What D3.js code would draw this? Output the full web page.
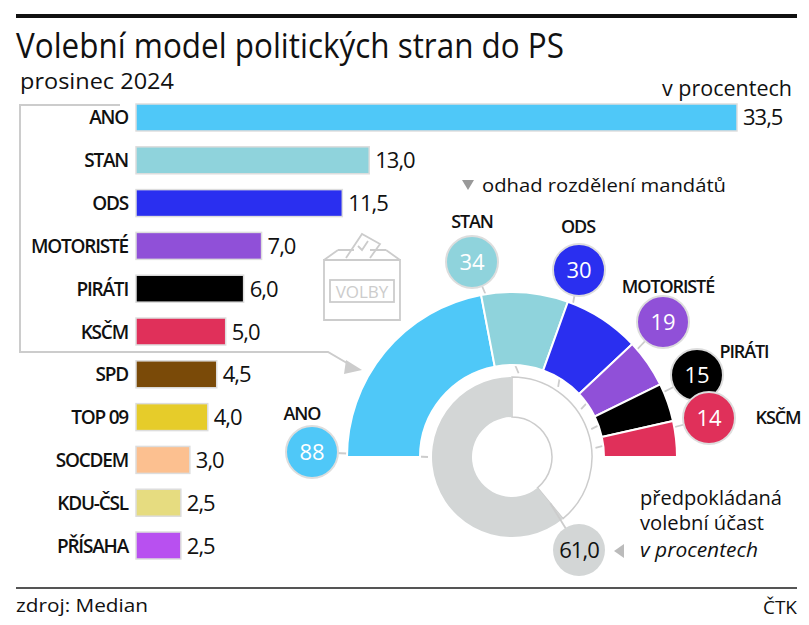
<!DOCTYPE html>
<html><head><meta charset="utf-8">
<script src="https://cdn.jsdelivr.net/npm/d3@7"></script>
<style>body{margin:0;background:#fff}svg{font-family:"Open Sans",sans-serif}</style>
</head><body><div id="scene"></div>
<script>
var parties = ["ANO","STAN","ODS","MOTORISTÉ","PIRÁTI","KSČM","SPD","TOP 09","SOCDEM","KDU-ČSL","PŘÍSAHA"];
var votes = [33.5,13.0,11.5,7.0,6.0,5.0,4.5,4.0,3.0,2.5,2.5];
var colors = ["#4fc8f8","#8fd3dc","#2a2ff0","#9050d8","#000000","#e0305a","#7a4a08","#e6cc2a","#fcc090","#e6dc80","#b850f0"];
var seatParties = ["ANO","STAN","ODS","MOTORISTÉ","PIRÁTI","KSČM"];
var seats = [88,34,30,19,15,14];
var turnout = 61.0;

var ctx = {w:809, h:625};
var fmt = function(v){ return d3.format(".1f")(v).replace(".", ","); };

var svg = d3.select("#scene").append("svg").attr("width", ctx.w).attr("height", ctx.h);

// header
svg.append("rect").attr("x",16).attr("y",14).attr("width",781).attr("height",4).attr("fill","#111");
svg.append("text").attr("x",16).attr("y",58).attr("font-size",34).attr("textLength",548).attr("lengthAdjust","spacingAndGlyphs").attr("fill","#111").text("Volební model politických stran do PS");
svg.append("text").attr("x",20).attr("y",89).attr("font-size",21).attr("textLength",154).attr("lengthAdjust","spacingAndGlyphs").attr("fill","#111").text("prosinec 2024");
svg.append("text").attr("x",792).attr("y",96).attr("font-size",21).attr("textLength",130).attr("lengthAdjust","spacingAndGlyphs").attr("text-anchor","end").attr("fill","#111").text("v procentech");

// bracket
svg.append("path").attr("d","M120,105 H20 V352 H328 L352,366").attr("fill","none").attr("stroke","#ccc").attr("stroke-width",2);
svg.append("path").attr("d","M346,360 L362,370 L344,374 Z").attr("fill","#ccc");

// bars
var x = d3.scaleLinear().domain([0,33.5]).range([136,737]);
var y = d3.scaleBand().domain(parties).range([104,559]).paddingInner(0.37);
var g = svg.append("g");
parties.forEach(function(p,i){
  g.append("rect").attr("x",x(0)).attr("y",y(p)).attr("width",x(votes[i])-x(0)).attr("height",y.bandwidth())
    .attr("fill",colors[i]).attr("stroke","#ddd").attr("stroke-width",1.5);
  g.append("text").attr("x",128).attr("y",y(p)+y.bandwidth()/2+7).attr("text-anchor","end").attr("font-size",19).attr("font-weight",600).attr("letter-spacing",-1.2).attr("fill","#111").text(p);
  g.append("text").attr("x",x(votes[i])+6).attr("y",y(p)+y.bandwidth()/2+8).attr("font-size",22).attr("letter-spacing",-1).attr("fill","#111").text(fmt(votes[i]));
});

// ballot box icon
var ic = svg.append("g").attr("fill","none").attr("stroke","#ccc").attr("stroke-width",1.8);
ic.append("path").attr("d","M324,260 L400,260 L400,320 L324,320 Z");
ic.append("path").attr("d","M324,260 L338,250 M400,260 L386,250 M338,250 L354,250 M370,250 L386,250");
ic.append("path").attr("d","M346,258 L362,234 L380,244 L370,258");
ic.append("path").attr("d","M358,246 L362,250 L368,241");
ic.append("rect").attr("x",330).attr("y",280).attr("width",64).attr("height",22);
svg.append("text").attr("x",362).attr("y",298).attr("text-anchor","middle").attr("font-size",17).attr("fill","#ccc").text("VOLBY");

// legend
svg.append("path").attr("d","M462,180 L474,180 L468,190 Z").attr("fill","#999");
svg.append("text").attr("x",482).attr("y",192).attr("font-size",19).attr("textLength",244).attr("lengthAdjust","spacingAndGlyphs").attr("fill","#111").text("odhad rozdělení mandátů");

// seat hemicycle
var cx = 512, cy = 457;
var total = d3.sum(seats);
var a = d3.scaleLinear().domain([0,total]).range([-Math.PI/2, Math.PI/2]);
var cum = d3.cumsum(seats);
var arc = d3.arc().innerRadius(92).outerRadius(165);
var hg = svg.append("g").attr("transform","translate("+cx+","+cy+")");

var bubbles = [[312,452],[472,262],[579,270],[663,322],[697,375],[709,418]];
var labels = [[302,420],[472,228],[578,233],[668,293],[744,358],[778,424]];

// leader lines (under the arcs)
seats.forEach(function(s,i){
  var am = i==0 ? -Math.PI/2 : a(cum[i]-s/2);
  var r0 = 84;
  svg.insert("line","g").attr("x1",cx+r0*Math.sin(am)).attr("y1",cy-r0*Math.cos(am)).attr("x2",bubbles[i][0]).attr("y2",bubbles[i][1])
    .attr("stroke","#ccc").attr("stroke-width",1.8);
});
seats.forEach(function(s,i){
  var a0 = a(cum[i]-s), a1 = a(cum[i]);
  hg.append("path").attr("d",arc({startAngle:a0,endAngle:a1})).attr("fill",colors[i]).attr("stroke","#fff").attr("stroke-width",2);
});

// turnout ring
var ring = d3.arc().innerRadius(40).outerRadius(80);
var ta = 2*Math.PI*(1-turnout/100);
svg.append("line").attr("x1",cx+60*Math.sin(ta)).attr("y1",cy-60*Math.cos(ta)).attr("x2",579).attr("y2",550).attr("stroke","#ccc").attr("stroke-width",1.8);
hg.append("path").attr("d",ring({startAngle:0,endAngle:ta})).attr("fill","#fff").attr("stroke","#ccc").attr("stroke-width",1.5);
hg.append("path").attr("d",ring({startAngle:ta,endAngle:2*Math.PI})).attr("fill","#d3d6d6");

// bubbles
seats.forEach(function(s,i){
  var b = svg.append("g").attr("transform","translate("+bubbles[i][0]+","+bubbles[i][1]+")");
  b.append("circle").attr("r",26).attr("fill",colors[i]).attr("stroke","#ddd").attr("stroke-width",2);
  b.append("text").attr("y",8).attr("text-anchor","middle").attr("font-size",22).attr("fill","#fff").text(s);
  svg.append("text").attr("x",labels[i][0]).attr("y",labels[i][1]).attr("text-anchor","middle").attr("font-size",18).attr("font-weight",600).attr("letter-spacing",-1.1).attr("fill","#111").text(seatParties[i]);
});

// turnout bubble
svg.append("circle").attr("cx",579).attr("cy",550).attr("r",26).attr("fill","#d3d6d6");
svg.append("text").attr("x",579).attr("y",558).attr("text-anchor","middle").attr("font-size",22).attr("letter-spacing",-1).attr("fill","#111").text(fmt(turnout));
svg.append("path").attr("d","M614,551 L624,544 L624,558 Z").attr("fill","#bbb");
svg.append("text").attr("x",640).attr("y",505).attr("font-size",20).attr("textLength",142).attr("lengthAdjust","spacingAndGlyphs").attr("fill","#111").text("předpokládaná");
svg.append("text").attr("x",640).attr("y",530).attr("font-size",20).attr("textLength",124).attr("lengthAdjust","spacingAndGlyphs").attr("fill","#111").text("volební účast");
svg.append("text").attr("x",640).attr("y",557).attr("font-size",20).attr("font-style","italic").attr("textLength",118).attr("lengthAdjust","spacingAndGlyphs").attr("fill","#111").text("v procentech");

// footer
svg.append("rect").attr("x",16).attr("y",587).attr("width",781).attr("height",2).attr("fill","#555");
svg.append("text").attr("x",16).attr("y",612).attr("font-size",19).attr("textLength",132).attr("lengthAdjust","spacingAndGlyphs").attr("fill","#111").text("zdroj: Median");
svg.append("text").attr("x",797).attr("y",614).attr("text-anchor","end").attr("font-size",19).attr("fill","#111").text("ČTK");
</script></body></html>
